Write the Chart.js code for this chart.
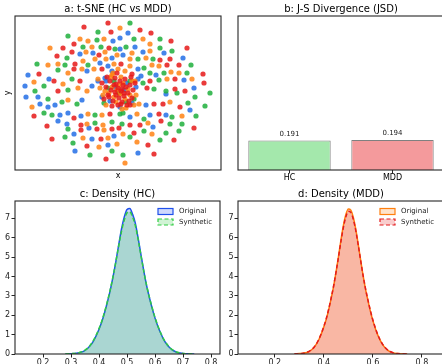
<!DOCTYPE html>
<html>
<head>
<meta charset="utf-8">
<script src="https://cdn.jsdelivr.net/npm/chart.js@4.4.1/dist/chart.umd.min.js"></script>
<style>
  html, body { margin: 0; padding: 0; background: #fff; width: 442px; height: 364px; overflow: hidden; position: relative; }
  canvas { position: absolute; }
</style>
</head>
<body>
<canvas id="tsne" width="230" height="185" style="left:0;top:0;width:230px;height:185px"></canvas>
<canvas id="jsd" width="230" height="185" style="left:230px;top:0;width:230px;height:185px"></canvas>
<canvas id="densHC" width="230" height="195" style="left:0;top:185px;width:230px;height:195px"></canvas>
<canvas id="densMDD" width="235" height="195" style="left:225px;top:185px;width:235px;height:195px"></canvas>
<script>
// a: t-SNE points (arbitrary embedding units)
const hcOrigPts = [
  [-5,52],[-38,39],[-25,40],[-6,35],[-18,30],[-90,18],[-69,14],[-31,22],[-10,27],[-93,7],[-26,7],[-13,15],
  [10,60],[2,55],[17,46],[2,44],[5,38],[25,41],[46,40],[65,35],[20,24],[23,17],[38,18],[66,13],[76,5],
  [-92,-4],[-80,-4],[-78,-11],[-70,-14],[-63,-12],[-36,-7],[-58,-22],[-50,-20],[-37,-23],[-60,-28],[-51,-31],
  [-44,-41],[-29,-35],[-26,-46],[-4,-43],[-43,-58],[-10,-52],
  [48,-1],[28,-12],[72,-17],[12,-24],[32,-22],[48,-22],[35,-34],[20,-60],
  [-3,6],[6,3],[-8,-8],[9,10],[-12,12],[2,-14],[14,-10],[-16,-4],[-6,22],[18,6],[20,14],[-20,12]
];
const hcSynPts = [
  [-20,61],[-50,57],[-21,53],[-35,46],[-17,46],[-3,44],[-51,35],[-81,29],[-53,28],[-30,28],[-60,23],[-74,7],
  [-46,14],[-83,2],[-50,3],
  [12,70],[16,54],[42,54],[8,46],[42,45],[54,42],[20,34],[35,34],[26,25],[73,28],[32,20],[46,20],[69,20],
  [25,10],[41,13],[36,4],[48,2],[92,0],
  [-70,-6],[-56,-9],[-41,-11],[-74,-20],[-66,-22],[-23,-22],[-23,-30],[-6,-29],[-50,-36],[-53,-44],[-45,-50],
  [-28,-62],[-6,-58],
  [59,0],[77,-4],[70,-10],[87,-13],[2,-21],[26,-26],[54,-24],[78,-23],[4,-31],[52,-31],[64,-31],[26,-38],
  [48,-40],[61,-38],[12,-44],[42,-47],[5,-62],
  [1,0],[-4,12],[8,-9],[-10,5],[5,-20],[12,12],[-14,-10],[16,-6]
];
const mddOrigPts = [
  [-38,54],[-30,52],[-14,54],[-68,45],[-26,46],[-32,41],[-13,41],[-1,38],[-70,28],[-60,29],[-35,32],[-23,34],
  [-12,34],[-50,20],[-36,24],[-24,24],[-4,29],[-84,11],[-55,9],[-20,14],[-6,18],[-40,5],[-31,2],
  [2,65],[25,54],[32,49],[14,40],[32,42],[12,34],[28,35],[12,27],[34,28],[41,27],[7,22],[53,21],[61,20],
  [17,12],[49,14],[74,14],
  [-86,-14],[-50,-7],[-30,-21],[-16,-22],[-31,-31],[-15,-32],[-14,-37],[-35,-45],[-10,-45],[-19,-54],[-1,-51],
  [21,-11],[52,-9],[19,-21],[64,-23],[30,-30],[5,-41],[34,-41],[19,-49],[7,-70],
  [-1,3],[2,-1],[5,10],[-6,6],[7,-6],[-4,-4],[10,4],[-9,0],[1,8],[-2,-9],[12,-2],[-13,2],[3,16],[-7,16],
  [14,12],[-15,-2],[8,-15],[-5,20],[18,-2],[-18,5],[0,24],[4,-16],[-12,-12],[16,-12]
];
const mddSynPts = [
  [-34,66],[-10,70],[-7,61],[-55,45],[-44,49],[-9,45],[-61,37],[-46,41],[-19,38],[-43,29],[-79,19],[-44,24],
  [-16,24],[-64,12],[-38,12],[-60,2],
  [22,63],[33,60],[53,52],[69,45],[42,33],[52,34],[3,29],[49,28],[61,28],[14,19],[85,19],[32,12],[57,14],
  [86,10],[29,5],[57,4],[67,2],
  [-84,-23],[-44,-25],[-8,-21],[-71,-33],[-37,-32],[-37,-37],[-21,-36],[-6,-36],[-66,-46],[-17,-46],[-31,-53],
  [-12,-66],
  [3,-11],[12,-12],[36,-11],[45,-11],[62,-14],[41,-21],[12,-32],[22,-32],[43,-28],[1,-35],[16,-40],[76,-35],
  [30,-52],[56,-47],[36,-61],
  [0,5],[3,2],[-4,8],[6,-3],[-2,-2],[8,6],[-7,3],[2,12],[-10,-2],[10,0],[-5,-8],[4,-9],[12,8],[-12,6],[1,-5],
  [-3,15],[7,14],[14,-5],[-14,-6],[-8,12],[9,-12],[-1,20],[-6,-13],[15,3],[5,8],[-9,-4],[11,-8],[-3,1],[4,4],
  [0,-12],[-16,10],[17,10],[-11,16],[13,16],[-2,9],[6,0]
];

// b: Jensen-Shannon divergence
const jsdGroups = ["HC", "MDD"];
const jsdValues = [0.191, 0.194];

// c, d: KDE curves
const densX = [0.28, 0.30, 0.31, 0.32, 0.33, 0.34, 0.35, 0.36, 0.37, 0.38, 0.39, 0.40, 0.41, 0.42, 0.43,
  0.44, 0.45, 0.46, 0.47, 0.48, 0.49, 0.50, 0.51, 0.52, 0.53, 0.54, 0.55, 0.56, 0.57, 0.58, 0.59, 0.60,
  0.61, 0.62, 0.63, 0.64, 0.65, 0.66, 0.67, 0.68, 0.69, 0.70, 0.72, 0.74];
const hcOriginal = [0, 0.015, 0.025, 0.045, 0.07, 0.11, 0.19, 0.30, 0.46, 0.67, 0.95, 1.28, 1.66, 2.14, 2.68,
  3.28, 3.98, 4.75, 5.60, 6.42, 7.05, 7.45, 7.50, 7.20, 6.72, 5.95, 5.10, 4.27, 3.52, 2.90, 2.35, 1.85,
  1.43, 1.08, 0.77, 0.54, 0.36, 0.23, 0.14, 0.08, 0.05, 0.03, 0.01, 0];
const hcSynthetic = [0, 0.02, 0.03, 0.05, 0.08, 0.12, 0.20, 0.31, 0.48, 0.70, 0.98, 1.31, 1.70, 2.18, 2.72,
  3.32, 4.00, 4.75, 5.55, 6.30, 6.90, 7.28, 7.33, 7.06, 6.60, 5.88, 5.06, 4.26, 3.53, 2.92, 2.38, 1.88,
  1.46, 1.10, 0.79, 0.56, 0.38, 0.24, 0.15, 0.09, 0.05, 0.03, 0.01, 0];
const mddOriginal = [0, 0.02, 0.03, 0.05, 0.08, 0.13, 0.22, 0.34, 0.52, 0.75, 1.05, 1.40, 1.80, 2.30, 2.88,
  3.50, 4.25, 5.05, 5.90, 6.65, 7.20, 7.48, 7.42, 7.05, 6.45, 5.68, 4.85, 4.05, 3.35, 2.75, 2.20, 1.72,
  1.32, 0.98, 0.70, 0.48, 0.32, 0.20, 0.12, 0.07, 0.04, 0.02, 0.01, 0];
const mddSynthetic = [0, 0.02, 0.03, 0.05, 0.09, 0.14, 0.23, 0.35, 0.53, 0.77, 1.07, 1.42, 1.83, 2.33, 2.90,
  3.52, 4.25, 5.02, 5.83, 6.55, 7.08, 7.36, 7.30, 6.95, 6.38, 5.64, 4.84, 4.06, 3.37, 2.78, 2.23, 1.75,
  1.35, 1.00, 0.72, 0.50, 0.33, 0.21, 0.13, 0.08, 0.04, 0.02, 0.01, 0];

const densYTicks = [0, 1, 2, 3, 4, 5, 6, 7];
const hcXTicks = [0.2, 0.3, 0.4, 0.5, 0.6, 0.7, 0.8];
const mddXTicks = [0.2, 0.4, 0.6, 0.8];

Chart.defaults.font.family = '"DejaVu Sans", sans-serif';
Chart.defaults.color = "#222";
Chart.defaults.animation = false;
Chart.defaults.plugins.legend.display = false;
Chart.defaults.plugins.tooltip.enabled = false;

const frame = {
  id: "frame",
  afterDraw(chart) {
    const { ctx, chartArea: a } = chart;
    ctx.save();
    ctx.strokeStyle = "#262626";
    ctx.lineWidth = 1.1;
    ctx.strokeRect(a.left, a.top, a.right - a.left, a.bottom - a.top);
    ctx.restore();
  }
};

const panelTitle = {
  id: "panelTitle",
  afterDraw(chart, args, opts) {
    const { ctx, chartArea: a } = chart;
    ctx.save();
    ctx.font = '10px "DejaVu Sans"';
    ctx.fillStyle = "#000";
    ctx.textAlign = "center";
    ctx.textBaseline = "middle";
    ctx.fillText(opts.text, (a.left + a.right) / 2, a.top - 6.5);
    ctx.restore();
  }
};

const innerLegend = {
  id: "innerLegend",
  afterDraw(chart, args, opts) {
    if (!opts.show) return;
    const { ctx, chartArea: a } = chart;
    ctx.save();
    ctx.font = '7px "DejaVu Sans"';
    ctx.textBaseline = "middle";
    chart.data.datasets.forEach((ds, i) => {
      const x = a.left + opts.offsetX;
      const y = a.top + 10.5 + i * 10.5;
      ctx.fillStyle = ds.backgroundColor;
      ctx.fillRect(x, y - 3, 15, 6);
      ctx.setLineDash(ds.borderDash || []);
      ctx.strokeStyle = ds.borderColor;
      ctx.lineWidth = 1.2;
      ctx.strokeRect(x, y - 3, 15, 6);
      ctx.setLineDash([]);
      ctx.fillStyle = "#222";
      ctx.fillText(ds.label, x + 21, y);
    });
    ctx.restore();
  }
};

const barLabels = {
  id: "barLabels",
  afterDatasetsDraw(chart) {
    const { ctx } = chart;
    const meta = chart.getDatasetMeta(0);
    ctx.save();
    ctx.font = '7px "DejaVu Sans"';
    ctx.fillStyle = "#222";
    ctx.textAlign = "center";
    ctx.textBaseline = "bottom";
    meta.data.forEach((bar, i) => ctx.fillText(jsdValues[i].toFixed(3), bar.x, bar.y - 3));
    ctx.restore();
  }
};

function fix(px) {
  return scale => {
    if (scale.isHorizontal()) scale.height = px;
    else scale.width = px;
  };
}

function tickGrid() {
  return { display: true, drawOnChartArea: false, drawTicks: true, tickLength: 3.5, tickColor: "#262626", tickWidth: 1 };
}

// a: t-SNE
new Chart(document.getElementById("tsne"), {
  type: "scatter",
  data: {
    datasets: [
      { label: "HC Original", data: hcOrigPts, backgroundColor: "rgba(35,110,230,0.85)", order: 3 },
      { label: "HC Synthetic", data: hcSynPts, backgroundColor: "rgba(30,175,60,0.85)", order: 2 },
      { label: "MDD Original", data: mddOrigPts, backgroundColor: "rgba(255,130,20,0.85)", order: 1 },
      { label: "MDD Synthetic", data: mddSynPts, backgroundColor: "rgba(230,25,25,0.85)", order: 0 }
    ]
  },
  options: {
    responsive: false,
    devicePixelRatio: 1,
    layout: { padding: { left: 0, right: 9, top: 16, bottom: 0 } },
    elements: { point: { radius: 2.6, borderWidth: 0 } },
    scales: {
      x: {
        type: "linear", min: -103, max: 103,
        ticks: { display: false }, grid: { display: false }, border: { display: false },
        title: { display: true, text: "x", color: "#000", font: { size: 8 }, padding: { top: 0, bottom: 4 } },
        afterFit: fix(15)
      },
      y: {
        type: "linear", min: -77, max: 77,
        ticks: { display: false }, grid: { display: false }, border: { display: false },
        title: { display: true, text: "y", color: "#000", font: { size: 8 }, padding: { top: 3, bottom: 0 } },
        afterFit: fix(15)
      }
    },
    plugins: { panelTitle: { text: "a: t-SNE (HC vs MDD)" } }
  },
  plugins: [frame, panelTitle]
});

// b: JSD bars
new Chart(document.getElementById("jsd"), {
  type: "bar",
  data: {
    labels: jsdGroups,
    datasets: [{
      data: jsdValues,
      backgroundColor: ["#a4e8ac", "#f49a9c"],
      borderColor: "#808080",
      borderWidth: 1,
      barPercentage: 0.8,
      categoryPercentage: 1.0
    }]
  },
  options: {
    responsive: false,
    devicePixelRatio: 1,
    layout: { padding: { left: 8, right: 16, top: 16, bottom: 0 } },
    scales: {
      x: {
        grid: Object.assign(tickGrid(), { offset: false }),
        border: { display: false },
        ticks: { font: { size: 8 }, color: "#000", padding: 0 },
        afterFit: fix(15)
      },
      y: { display: false, min: 0, max: 1 }
    },
    plugins: { panelTitle: { text: "b: J-S Divergence (JSD)" } }
  },
  plugins: [frame, panelTitle, barLabels]
});

function densityChart(id, title, orig, syn, colors, xMin, xMax, xTicks, yWidth, rightPad, yPad, legendX) {
  return new Chart(document.getElementById(id), {
    type: "line",
    data: {
      datasets: [
        {
          label: "Original",
          data: densX.map((x, i) => ({ x: x, y: orig[i] })),
          borderColor: colors[0], backgroundColor: colors[1],
          borderWidth: 1.5, fill: "origin", order: 1
        },
        {
          label: "Synthetic",
          data: densX.map((x, i) => ({ x: x, y: syn[i] })),
          borderColor: colors[2], backgroundColor: colors[3],
          borderWidth: 1.5, borderDash: [4, 2.5], fill: "origin", order: 0
        }
      ]
    },
    options: {
      responsive: false,
      devicePixelRatio: 1,
      layout: { padding: { left: 0, right: rightPad, top: 16, bottom: 0 } },
      elements: { point: { radius: 0 }, line: { cubicInterpolationMode: "monotone" } },
      scales: {
        x: {
          type: "linear", min: xMin, max: xMax,
          afterBuildTicks: s => { s.ticks = xTicks.map(v => ({ value: v })); },
          ticks: { font: { size: 8 }, color: "#222", padding: 1, maxRotation: 0, autoSkip: false, callback: v => v.toFixed(1) },
          grid: tickGrid(),
          border: { display: false },
          afterFit: fix(26)
        },
        y: {
          type: "linear", min: 0, max: 7.89,
          afterBuildTicks: s => { s.ticks = densYTicks.map(v => ({ value: v })); },
          ticks: { font: { size: 8 }, color: "#222", padding: yPad, autoSkip: false },
          grid: tickGrid(),
          border: { display: false },
          afterFit: fix(yWidth)
        }
      },
      plugins: {
        panelTitle: { text: title },
        innerLegend: { show: true, offsetX: legendX }
      }
    },
    plugins: [frame, panelTitle, innerLegend]
  });
}

densityChart("densHC", "c: Density (HC)", hcOriginal, hcSynthetic,
  ["#1f50ec", "rgba(30,80,240,0.22)", "#2ecc40", "rgba(40,200,60,0.22)"],
  0.1, 0.832, hcXTicks, 15, 10, 1.5, 143);

densityChart("densMDD", "d: Density (MDD)", mddOriginal, mddSynthetic,
  ["#ff7f0e", "rgba(255,127,14,0.22)", "#e41a1c", "rgba(228,26,28,0.22)"],
  0.05, 0.89, mddXTicks, 13, 16, 1, 142);
</script>
</body>
</html>
